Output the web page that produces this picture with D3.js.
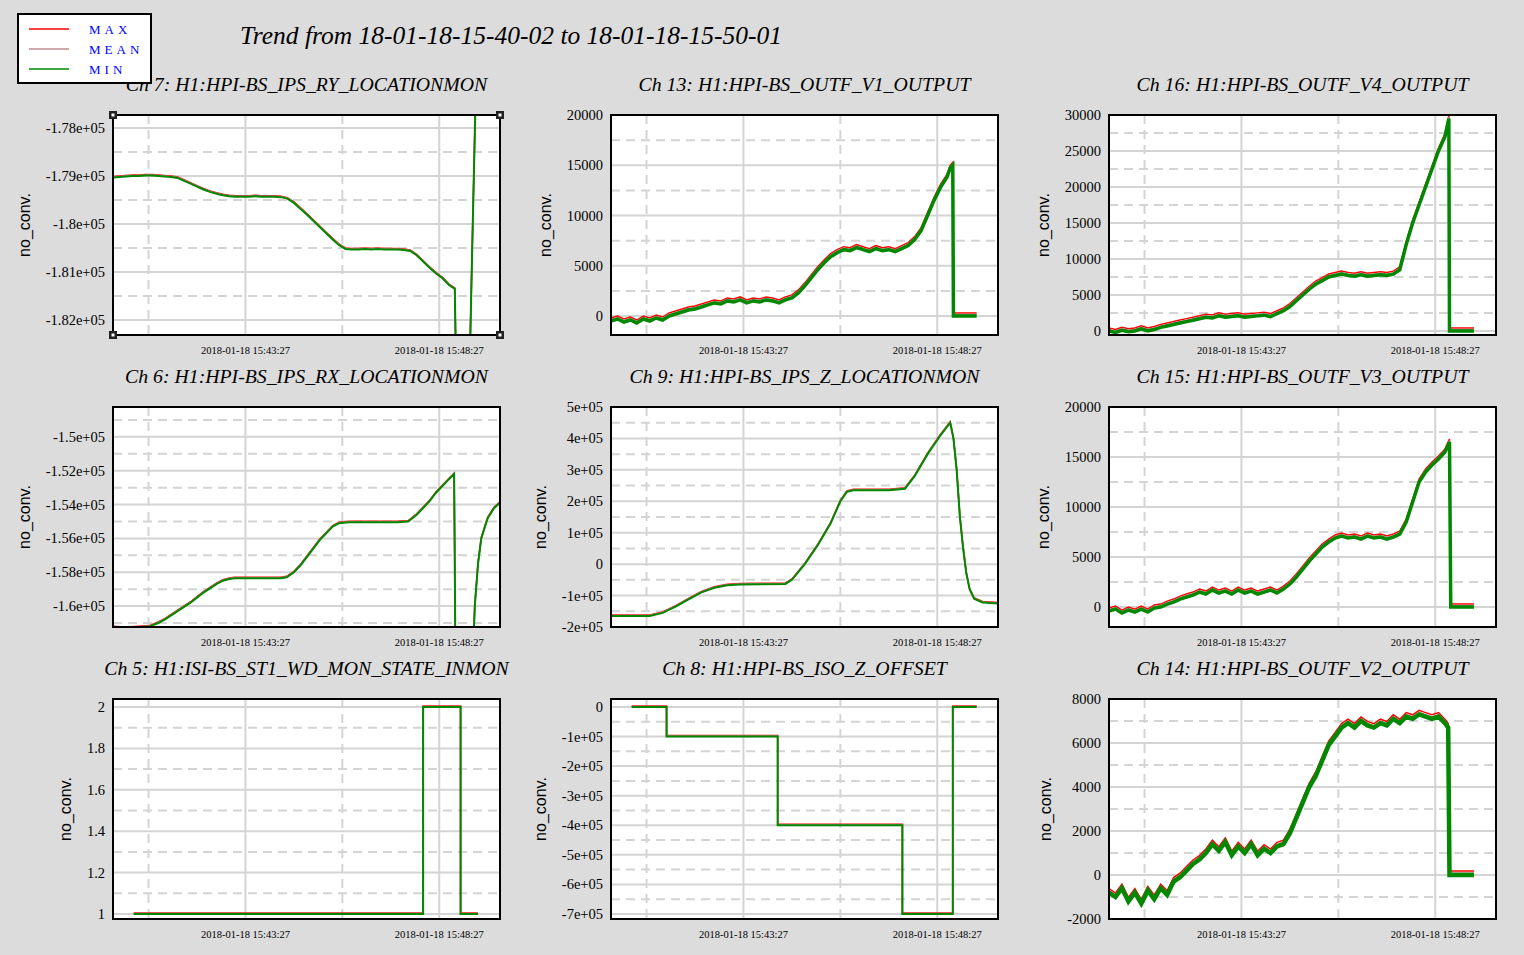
<!DOCTYPE html>
<html><head><meta charset="utf-8">
<script src="https://cdn.jsdelivr.net/npm/d3@7"></script>
<style>body{margin:0;background:#dcdcdc}svg{display:block}</style>
</head><body><svg id="c" width="1524" height="955"></svg>
<script>
// ---- data (t = seconds since 15:40:02) ----
const titles = ["Ch 7: H1:HPI-BS_IPS_RY_LOCATIONMON","Ch 13: H1:HPI-BS_OUTF_V1_OUTPUT","Ch 16: H1:HPI-BS_OUTF_V4_OUTPUT",
"Ch 6: H1:HPI-BS_IPS_RX_LOCATIONMON","Ch 9: H1:HPI-BS_IPS_Z_LOCATIONMON","Ch 15: H1:HPI-BS_OUTF_V3_OUTPUT",
"Ch 5: H1:ISI-BS_ST1_WD_MON_STATE_INMON","Ch 8: H1:HPI-BS_ISO_Z_OFFSET","Ch 14: H1:HPI-BS_OUTF_V2_OUTPUT"];
const xTickTimes = [205, 505];
const xTickLabels = ["2018-01-18 15:43:27","2018-01-18 15:48:27"];
const xMinorTimes = [55, 355];

const ch7T=[0,10,20,30,40,50,60,70,80,90,100,110,120,130,140,150,160,170,180,190,200,210,220,230,240,250,260,270,280,290,300,310,320,330,340,350,360,370,380,390,400,410,420,430,440,450,460,470,480,490,500,510,520,529,531,552,556,561];
const ch7V=[-179030,-179020,-179010,-179000,-179000,-178990,-178990,-179000,-179010,-179020,-179040,-179100,-179160,-179220,-179280,-179330,-179370,-179400,-179420,-179430,-179430,-179430,-179420,-179430,-179430,-179430,-179440,-179470,-179560,-179680,-179800,-179930,-180060,-180190,-180320,-180440,-180520,-180530,-180530,-180520,-180530,-180520,-180530,-180530,-180530,-180540,-180560,-180650,-180780,-180910,-181030,-181130,-181270,-181350,-183000,-183000,-180500,-177500];
const ch7Y=[-178000,-179000,-180000,-181000,-182000];
const ch7L=["-1.78e+05","-1.79e+05","-1.8e+05","-1.81e+05","-1.82e+05"];

const ch13T=[0,10,20,30,40,50,60,70,80,90,100,110,120,130,140,150,160,170,180,190,200,210,220,230,240,250,260,270,280,290,300,310,320,330,340,350,360,370,380,390,400,410,420,430,440,450,460,470,480,490,500,510,520,525,529,530,566];
const ch13V=[-500,-300,-600,-400,-700,-300,-500,-200,-400,0,200,400,600,700,900,1100,1300,1200,1500,1400,1600,1300,1500,1400,1600,1500,1300,1600,1800,2300,3000,3800,4600,5300,5900,6300,6600,6500,6800,6600,6400,6700,6500,6600,6400,6700,7000,7600,8500,10000,11500,12800,13800,14700,15000,0,0];
const ch13Y=[0,5000,10000,15000,20000];

const ch16T=[0,10,20,30,40,50,60,70,80,90,100,110,120,130,140,150,160,170,180,190,200,210,220,230,240,250,260,270,280,290,300,310,320,330,340,350,360,370,380,390,400,410,420,430,440,450,460,470,480,490,500,510,520,526,527,565];
const ch16V=[0,-200,100,-100,0,300,0,200,500,700,900,1100,1300,1500,1700,1900,1800,2100,1900,2000,2100,1900,2000,2100,2200,2000,2400,2800,3400,4200,5000,5800,6500,7000,7500,7700,7900,7700,7600,7800,7600,7700,7800,7700,7900,8500,12000,15000,17500,20000,22500,25000,27000,29500,0,0];
const ch16Y=[0,5000,10000,15000,20000,25000,30000];

const ch6T=[0,20,40,57,70,80,90,100,110,120,130,140,150,160,170,180,188,200,220,240,260,269,280,290,300,310,320,330,340,350,365,380,400,420,440,457,470,480,490,500,510,520,528,530,557,560,565,570,580,590,599];
const ch6V=[-161250,-161300,-161250,-161200,-161000,-160800,-160550,-160300,-160050,-159800,-159500,-159200,-158950,-158700,-158500,-158400,-158350,-158350,-158350,-158350,-158350,-158300,-158000,-157600,-157100,-156600,-156100,-155700,-155300,-155100,-155050,-155050,-155050,-155050,-155050,-155000,-154600,-154200,-153800,-153300,-152900,-152500,-152200,-163000,-163000,-160000,-157500,-156000,-154800,-154200,-153900];
const ch6Y=[-150000,-152000,-154000,-156000,-158000,-160000];
const ch6L=["-1.5e+05","-1.52e+05","-1.54e+05","-1.56e+05","-1.58e+05","-1.6e+05"];

const ch9T=[0,60,80,100,120,140,160,180,200,270,280,300,320,340,355,365,375,400,430,455,470,490,510,525,530,535,540,545,550,555,562,575,599];
const ch9V=[-165000,-165000,-155000,-135000,-112000,-90000,-75000,-67000,-65000,-63000,-50000,0,60000,130000,200000,230000,235000,235000,235000,240000,280000,350000,410000,450000,400000,300000,150000,50000,-30000,-80000,-110000,-122000,-125000];
const ch9Y=[-200000,-100000,0,100000,200000,300000,400000,500000];
const ch9L=["-2e+05","-1e+05","0","1e+05","2e+05","3e+05","4e+05","5e+05"];

const ch15T=[0,10,20,30,40,50,60,70,80,90,100,110,120,130,140,150,160,170,180,190,200,210,220,230,240,250,260,270,280,290,300,310,320,330,340,350,360,370,380,390,400,410,420,430,440,450,460,470,480,490,500,510,520,527,529,565];
const ch15V=[-400,-200,-600,-300,-500,-200,-500,-100,0,300,500,800,1000,1200,1500,1300,1700,1400,1600,1300,1700,1400,1600,1300,1500,1700,1400,1800,2300,3000,3800,4600,5300,6000,6500,6900,7100,6900,7000,6800,7100,6900,7000,6800,7000,7300,8500,10500,12500,13500,14200,14800,15500,16500,0,0];
const ch15Y=[0,5000,10000,15000,20000];

const ch5T=[32,480,480,538,538,565];
const ch5V=[1,1,2,2,1,1];
const ch5Y=[1,1.2,1.4,1.6,1.8,2];
const ch5L=["1","1.2","1.4","1.6","1.8","2"];

const ch8T=[32,86,86,258,258,451,451,529,529,566];
const ch8V=[0,0,-100000,-100000,-400000,-400000,-700000,-700000,0,0];
const ch8Y=[0,-100000,-200000,-300000,-400000,-500000,-600000,-700000];
const ch8L=["0","-1e+05","-2e+05","-3e+05","-4e+05","-5e+05","-6e+05","-7e+05"];

const ch14T=[0,10,20,30,40,50,60,70,80,90,100,110,120,130,140,150,160,170,180,190,200,210,220,230,240,250,260,270,280,290,300,310,320,330,340,350,360,370,380,390,400,410,420,430,440,450,460,470,480,490,500,510,520,525,527,565];
const ch14V=[-800,-1000,-600,-1200,-800,-1300,-700,-1100,-600,-900,-300,-100,200,500,700,1000,1400,1100,1500,900,1300,1000,1400,900,1200,1000,1300,1400,1900,2600,3300,4000,4500,5200,5900,6300,6700,6900,6700,7000,6800,6700,6900,6800,7100,6900,7200,7100,7300,7200,7100,7200,6900,6700,0,0];
const ch14Y=[-2000,0,2000,4000,6000,8000];

const panels=[
 {t:ch7T,v:ch7V,y:ch7Y,l:ch7L,d:[-182310,-177730],noisy:0},
 {t:ch13T,v:ch13V,y:ch13Y,l:null,d:[-1890,20000],noisy:1},
 {t:ch16T,v:ch16V,y:ch16Y,l:null,d:[-556,30000],noisy:1},
 {t:ch6T,v:ch6V,y:ch6Y,l:ch6L,d:[-161235,-148235],noisy:0},
 {t:ch9T,v:ch9V,y:ch9Y,l:ch9L,d:[-200000,500000],noisy:0},
 {t:ch15T,v:ch15V,y:ch15Y,l:null,d:[-1990,20000],noisy:1},
 {t:ch5T,v:ch5V,y:ch5Y,l:ch5L,d:[0.976,2.0385],noisy:0},
 {t:ch8T,v:ch8V,y:ch8Y,l:ch8L,d:[-717000,27000],noisy:0},
 {t:ch14T,v:ch14V,y:ch14Y,l:null,d:[-2000,8000],noisy:2},
];
const lefts=[113,611,1109], tops=[115,407,699], W=387, H=220;
const svg=d3.select("#c");
svg.append("rect").attr("width",1524).attr("height",955).attr("fill","#dcdcdc");
const serif="'Liberation Serif','DejaVu Serif',serif";

panels.forEach((p,i)=>{
  const L=lefts[i%3], T=tops[Math.floor(i/3)];
  const x=d3.scaleLinear().domain([0,599]).range([L,L+W]);
  const y=d3.scaleLinear().domain(p.d).range([T+H,T]);
  const g=svg.append("g");
  g.append("rect").attr("x",L).attr("y",T).attr("width",W).attr("height",H).attr("fill","#fff");
  const grid="#d4d4d4";
  const mids=[];
  const st=p.y[1]-p.y[0];
  [p.y[0]-st/2,...p.y.map(v=>v+st/2)].forEach(v=>{ if(v>Math.min(...p.d)&&v<Math.max(...p.d)) mids.push(v);});
  g.selectAll(".ym").data(mids).join("line").attr("x1",L).attr("x2",L+W).attr("y1",d=>y(d)).attr("y2",d=>y(d))
   .attr("stroke",grid).attr("stroke-width",2).attr("stroke-dasharray","9,6");
  g.selectAll(".yM").data(p.y).join("line").attr("x1",L).attr("x2",L+W).attr("y1",d=>y(d)).attr("y2",d=>y(d))
   .attr("stroke",grid).attr("stroke-width",2);
  g.selectAll(".xm").data(xMinorTimes).join("line").attr("x1",d=>x(d)).attr("x2",d=>x(d)).attr("y1",T).attr("y2",T+H)
   .attr("stroke",grid).attr("stroke-width",2).attr("stroke-dasharray","9,6");
  g.selectAll(".xM").data(xTickTimes).join("line").attr("x1",d=>x(d)).attr("x2",d=>x(d)).attr("y1",T).attr("y2",T+H)
   .attr("stroke",grid).attr("stroke-width",2);
  const clipId="clip"+i;
  svg.append("clipPath").attr("id",clipId).append("rect").attr("x",L).attr("y",T).attr("width",W).attr("height",H);
  const pts=p.t.map((t,k)=>[t,p.v[k]]);
  const line=d3.line().x(d=>x(d[0])).y(d=>y(d[1]));
  const dg=g.append("g").attr("clip-path",`url(#${clipId})`);
  const off=p.noisy?2+p.noisy:1;
  dg.append("path").attr("d",line(pts)).attr("fill","none").attr("stroke","#ff0000").attr("stroke-width",1.5).attr("transform",`translate(0,${-off})`);
  dg.append("path").attr("d",line(pts)).attr("fill","none").attr("stroke","#bc8f8f").attr("stroke-width",1.5).attr("transform",`translate(0,${-off/2})`);
  dg.append("path").attr("d",line(pts)).attr("fill","none").attr("stroke","#008800").attr("stroke-width",p.noisy?2.5+p.noisy:2);
  g.append("rect").attr("x",L).attr("y",T).attr("width",W).attr("height",H).attr("fill","none").attr("stroke","#000").attr("stroke-width",2);
  const yl=g.selectAll(".yl").data(p.y).join("text").attr("x",L-8).attr("y",d=>y(d)+5).attr("text-anchor","end")
   .attr("font-family",serif).attr("font-size",14.5).text((d,k)=>p.l?p.l[k]:String(d));
  let maxW=0; yl.each(function(){maxW=Math.max(maxW,this.getComputedTextLength());});
  g.selectAll(".xl").data(xTickTimes).join("text").attr("x",d=>x(d)).attr("y",T+H+19).attr("text-anchor","middle")
   .attr("font-family",serif).attr("font-size",10.5).text((d,k)=>xTickLabels[k]);
  g.append("text").attr("transform",`translate(${L-8-maxW-16},${T+H/2}) rotate(-90)`).attr("text-anchor","middle")
   .attr("font-family","'Liberation Sans',Arial,sans-serif").attr("font-size",16).text("no_conv.");
  g.append("text").attr("x",L+W/2).attr("y",T-24).attr("text-anchor","middle").attr("font-family",serif)
   .attr("font-style","italic").attr("font-size",19.8).text(titles[i]);
  if(i===0){
    [[L,T],[L+W,T],[L,T+H],[L+W,T+H]].forEach(c=>g.append("rect").attr("x",c[0]-4).attr("y",c[1]-4).attr("width",8).attr("height",8).attr("fill","#222"));
    [[L,T],[L+W,T],[L,T+H],[L+W,T+H]].forEach(c=>g.append("rect").attr("x",c[0]-1.5).attr("y",c[1]-1.5).attr("width",3).attr("height",3).attr("fill","#fff"));
  }
});
svg.append("text").attr("x",240).attr("y",44).attr("font-family",serif).attr("font-style","italic").attr("font-size",25.5)
 .text("Trend from 18-01-18-15-40-02 to 18-01-18-15-50-01");
const legNames=["MAX","MEAN","MIN"], legColors=["#ff0000","#bc8f8f","#008800"];
svg.append("rect").attr("x",18).attr("y",14).attr("width",133).attr("height",69).attr("fill","#fff").attr("stroke","#000").attr("stroke-width",2);
legNames.forEach((n,k)=>{
  svg.append("line").attr("x1",29).attr("x2",69).attr("y1",29+k*20).attr("y2",29+k*20).attr("stroke",legColors[k]).attr("stroke-width",1.5);
  svg.append("text").attr("x",89).attr("y",34+k*20).attr("font-family",serif).attr("font-size",13).attr("fill","#0000ff")
   .attr("letter-spacing",4).text(n);
});
</script></body></html>
